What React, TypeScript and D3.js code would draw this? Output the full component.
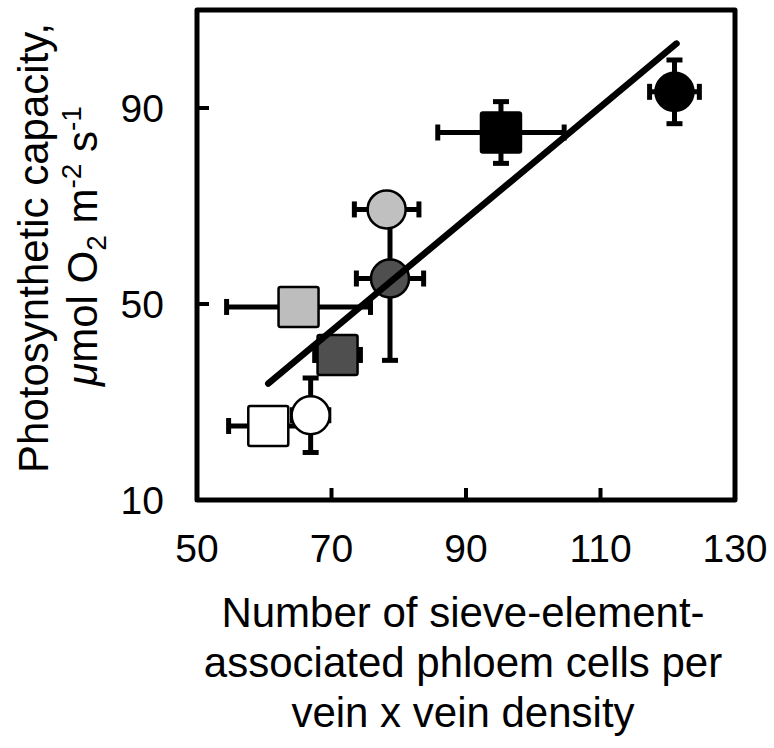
import React from "react";
import * as d3 from "d3";

// ---- Data ----
const labels = ["lightCircle", "darkCircle", "lightSquare", "darkSquare", "whiteSquare", "whiteCircle", "blackSquare", "blackCircle"];
const shapes = ["circle", "circle", "square", "square", "square", "circle", "square", "circle"];
const fills = ["#c0c0c0", "#4f4f4f", "#bdbdbd", "#4f4f4f", "#ffffff", "#ffffff", "#000000", "#000000"];
const xValues = [78.2, 78.7, 65.1, 70.9, 60.6, 66.9, 95.2, 121.0];
const yValues = [69.3, 55.2, 49.4, 39.6, 25.1, 27.3, 85.0, 93.3];
const xErrors = [4.8, 5.0, 10.7, 3.4, 5.9, 2.7, 9.4, 3.7];
const yErrors = [0, 16.7, 0, 0, 0, 7.6, 6.3, 6.5];

const fitX = [60.6, 121.3];
const fitSlope = 1.143;
const fitIntercept = -35.5;

const xTicks = [50, 70, 90, 110, 130];
const yTickLabels = [10, 50, 90];
const yTickMarks = [50, 90];

const W = 774;
const H = 748;
const M = { left: 197, right: 735, top: 10, bottom: 500 };
const FONT = "'Liberation Sans', Arial, Helvetica, sans-serif";

export default function App() {
  const x = d3.scaleLinear().domain([50, 130]).range([M.left, M.right]);
  const y = d3.scaleLinear().domain([10, 110]).range([M.bottom, M.top]);
  const line = d3.line<number>().x((d) => x(d)).y((d) => y(fitSlope * d + fitIntercept));

  const cap = 8;
  const r = 19;
  const half = 20;

  return (
    <svg width={W} height={H} style={{ position: "absolute", left: 0, top: 0, background: "#fff" }} fontFamily={FONT}>
      {/* error bars */}
      {xValues.map((xv, i) => {
        const cx = x(xv);
        const cy = y(yValues[i]);
        const x0 = x(xv - xErrors[i]);
        const x1 = x(xv + xErrors[i]);
        const y0 = y(yValues[i] - yErrors[i]);
        const y1 = y(yValues[i] + yErrors[i]);
        return (
          <g key={"e" + i} stroke="#000">
            {xErrors[i] > 0 && (
              <g>
                <line x1={x0} x2={x1} y1={cy} y2={cy} strokeWidth={5} />
                <line x1={x0} x2={x0} y1={cy - cap} y2={cy + cap} strokeWidth={5} />
                <line x1={x1} x2={x1} y1={cy - cap} y2={cy + cap} strokeWidth={5} />
              </g>
            )}
            {yErrors[i] > 0 && (
              <g>
                <line x1={cx} x2={cx} y1={y0} y2={y1} strokeWidth={5} />
                <line x1={cx - cap} x2={cx + cap} y1={y0} y2={y0} strokeWidth={5} />
                <line x1={cx - cap} x2={cx + cap} y1={y1} y2={y1} strokeWidth={5} />
              </g>
            )}
          </g>
        );
      })}
      {/* markers */}
      {xValues.map((xv, i) => {
        const cx = x(xv);
        const cy = y(yValues[i]);
        return shapes[i] === "circle" ? (
          <circle key={"m" + i} cx={cx} cy={cy} r={r} fill={fills[i]} stroke="#000" strokeWidth={2.5} />
        ) : (
          <rect key={"m" + i} x={cx - half} y={cy - half} width={half * 2} height={half * 2} rx={2} fill={fills[i]} stroke="#000" strokeWidth={2.5} />
        );
      })}
      {/* regression line */}
      <path d={line(fitX) || ""} fill="none" stroke="#000" strokeWidth={6.5} strokeLinecap="round" />
      {/* frame */}
      <rect x={M.left} y={M.top} width={M.right - M.left} height={M.bottom - M.top} fill="none" stroke="#000" strokeWidth={5} strokeLinejoin="round" />
      {/* ticks */}
      {xTicks.map((t) => (
        <g key={"xt" + t}>
          <line x1={x(t)} x2={x(t)} y1={M.bottom} y2={M.bottom - 12} stroke="#000" strokeWidth={4} />
          <text x={x(t)} y={562} textAnchor="middle" fontSize={39} fill="#000">{t}</text>
        </g>
      ))}
      {yTickMarks.map((t) => (
        <line key={"ytm" + t} x1={M.left} x2={M.left + 12} y1={y(t)} y2={y(t)} stroke="#000" strokeWidth={4} />
      ))}
      {yTickLabels.map((t) => (
        <text key={"ytl" + t} x={164} y={y(t) + 14} textAnchor="end" fontSize={39} fill="#000">{t}</text>
      ))}
      {/* y title */}
      <text transform="translate(48,248) rotate(-90)" textAnchor="middle" fontSize={42} fill="#000">Photosynthetic capacity,</text>
      <text transform="translate(97,246) rotate(-90)" textAnchor="middle" fontSize={42} fill="#000">
        <tspan fontStyle="italic">μ</tspan>
        <tspan>mol O</tspan>
        <tspan fontSize={28} dy={9}>2</tspan>
        <tspan dy={-9}> m</tspan>
        <tspan fontSize={28} dy={-16}>-2</tspan>
        <tspan dy={16}> s</tspan>
        <tspan fontSize={28} dy={-16}>-1</tspan>
      </text>
      {/* x title */}
      <text x={463} y={627} textAnchor="middle" fontSize={42} fill="#000">Number of sieve-element-</text>
      <text x={463} y={677} textAnchor="middle" fontSize={42} fill="#000">associated phloem cells per</text>
      <text x={463} y={727} textAnchor="middle" fontSize={42} fill="#000">vein x vein density</text>
    </svg>
  );
}
